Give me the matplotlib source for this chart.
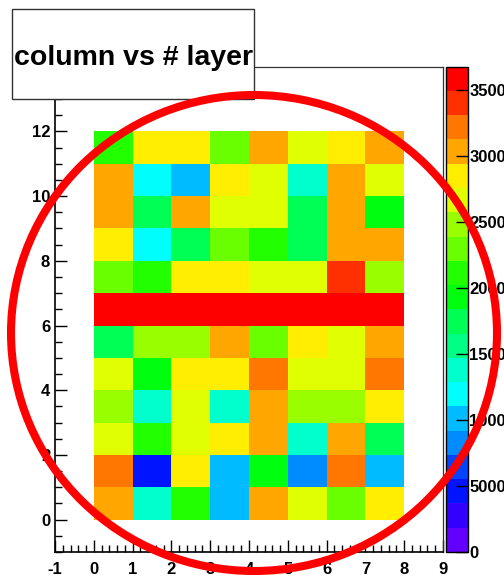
import colorsys
import numpy as np
import matplotlib
matplotlib.use("Agg")
import matplotlib.pyplot as plt
from matplotlib.colors import ListedColormap, Normalize
from matplotlib.patches import Rectangle, Ellipse
from matplotlib.ticker import MultipleLocator, FixedLocator

# Bin edges: 8 columns along x, 12 layers along y
column_edges = np.arange(0, 9)
layer_edges = np.arange(0, 13)

# Hit counts per (layer, column); row index = layer, column index = column
layer_0 = [30400, 13800, 21200, 10100, 30400, 26700, 23000, 28500]
layer_1 = [32200, 4600, 28500, 10100, 19300, 8300, 32200, 10100]
layer_2 = [26700, 21200, 26700, 28500, 30400, 13800, 30400, 17500]
layer_3 = [24800, 13800, 26700, 13800, 30400, 24800, 24800, 28500]
layer_4 = [26700, 19300, 28500, 28500, 32200, 26700, 26700, 32200]
layer_5 = [17500, 24800, 24800, 30400, 23000, 28500, 26700, 30400]
layer_6 = [36100, 36300, 36500, 36800, 36400, 36200, 36600, 36000]
layer_7 = [23000, 21200, 28500, 28500, 26700, 26700, 34000, 24800]
layer_8 = [28500, 12000, 17500, 23000, 21200, 17500, 30400, 30400]
layer_9 = [30400, 17500, 30400, 26700, 26700, 17500, 30400, 19300]
layer_10 = [30400, 12000, 10100, 28500, 26700, 13800, 30400, 26700]
layer_11 = [21200, 28500, 28500, 23000, 30400, 26700, 28500, 30400]

title_text = "column vs # layer"
x_ticks = list(range(-1, 10))
y_ticks = list(range(0, 13, 2))
z_ticks = [0, 5000, 10000, 15000, 20000, 25000, 30000, 35000]

counts = np.array([layer_0, layer_1, layer_2, layer_3, layer_4, layer_5,
                   layer_6, layer_7, layer_8, layer_9, layer_10, layer_11])

plt.rcParams["font.family"] = ["Liberation Sans", "DejaVu Sans"]
plt.rcParams["axes.unicode_minus"] = False

# "Pretty" palette: 50 fully saturated HLS hues from violet down to red,
# sampled on 20 contour levels
n_colors, n_levels = 50, 20
palette = [colorsys.hls_to_rgb(max(280.0 - (i + 1) * 280.0 / n_colors, 0.0) / 360.0, 0.5, 1.0)
           for i in range(n_colors)]
level_colors = [palette[int((k + 0.99) * n_colors / n_levels)] for k in range(n_levels)]
cmap = ListedColormap(level_colors)
norm = Normalize(vmin=0, vmax=counts.max())

W, H = 504, 579
fig = plt.figure(figsize=(W / 100, H / 100), dpi=100)
fig.patch.set_facecolor("white")

def fig_box(x0, y0, x1, y1):
    """Pixel box (top-left origin) -> figure-fraction [left, bottom, width, height]."""
    return [x0 / W, 1 - y1 / H, (x1 - x0) / W, (y1 - y0) / H]

ax = fig.add_axes(fig_box(55, 66.7, 443, 552))
mesh = ax.pcolormesh(column_edges, layer_edges, counts, cmap=cmap, norm=norm)
ax.set_xlim(-1, 9)
ax.set_ylim(-1, 14)

ax.xaxis.set_major_locator(FixedLocator(x_ticks))
ax.xaxis.set_minor_locator(MultipleLocator(0.2))
ax.yaxis.set_major_locator(FixedLocator(y_ticks))
ax.yaxis.set_minor_locator(MultipleLocator(0.5))
ax.tick_params(which="both", direction="in", top=False, right=False, width=1.0, color="black")
ax.tick_params(which="major", length=8.6)
ax.tick_params(which="minor", length=5.0)
ax.tick_params(axis="x", which="major", pad=7, labelsize=12)
ax.tick_params(axis="y", which="major", pad=3.5, labelsize=12)
for lab in ax.get_xticklabels() + ax.get_yticklabels():
    lab.set_fontweight("bold")
for side in ("left", "bottom"):
    ax.spines[side].set_linewidth(1.2)
for side in ("top", "right"):
    ax.spines[side].set_linewidth(0.9)
    ax.spines[side].set_color("#333333")

# Colour scale on the right
cax = fig.add_axes(fig_box(446, 66.7, 468, 552))
cb = fig.colorbar(mesh, cax=cax)
cb.set_ticks(z_ticks)
cb.set_ticklabels([str(t) for t in z_ticks])
cax.yaxis.set_ticks_position("right")
cax.tick_params(which="major", direction="in", length=8.6, width=1.0, pad=1, labelsize=12)
cax.tick_params(which="minor", length=0)
for lab in cax.get_yticklabels():
    lab.set_fontweight("bold")
cb.outline.set_linewidth(1.0)

# Title box
x0, y0, x1, y1 = 12, 9, 254, 99
fig.patches.append(Rectangle((x0 / W, 1 - y1 / H), (x1 - x0) / W, (y1 - y0) / H,
                             transform=fig.transFigure, facecolor="white",
                             edgecolor="#333333", linewidth=1.0, zorder=5))
fig.text((x0 + x1) / 2 / W, 1 - 65 / H, title_text, ha="center", va="baseline",
         fontsize=20.5, fontweight="bold", color="black", zorder=6)

# Red ring drawn over the whole plot
fig.patches.append(Ellipse((254 / W, 1 - 333 / H), 486 / W, 476 / H,
                           transform=fig.transFigure, fill=False,
                           edgecolor="#ff0000", linewidth=5.8, zorder=10))

fig.savefig("out.png", dpi=100)
